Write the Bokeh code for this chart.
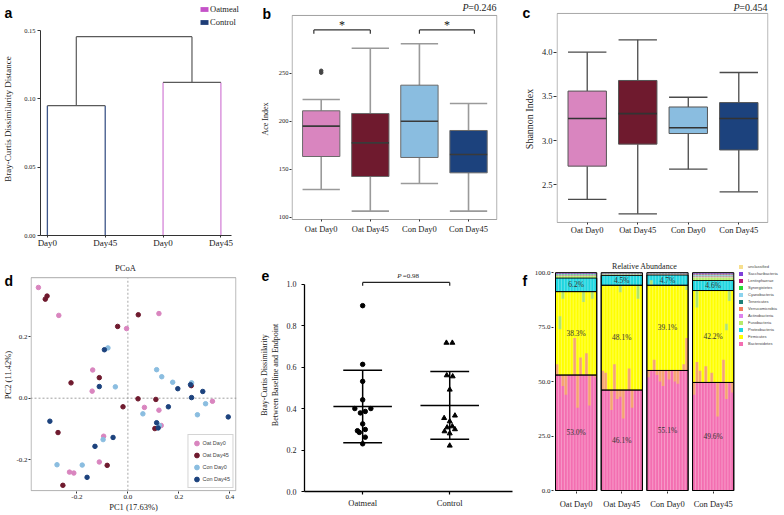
import numpy as np
from bokeh.plotting import figure
from bokeh.layouts import row, column
from bokeh.models import (ColumnDataSource, Label, Legend, LegendItem, FixedTicker, Range1d)
from bokeh.core.properties import value
from bokeh.embed import file_html
from bokeh.resources import INLINE

SERIF = "Liberation Serif"
SANS = "Liberation Sans"

# ---------------- data ----------------
# (a) dendrogram of group centroids
dend_leaves = ["Day0", "Day45", "Day0", "Day45"]
control_merge = 0.095
oatmeal_merge = 0.112
root_merge = 0.1455

# (b) Ace index box statistics
box_groups = ["Oat Day0", "Oat Day45", "Con Day0", "Con Day45"]
group_colors = ["#D985BF", "#6F1A2E", "#8ABDE0", "#1C427D"]
ace_lower = [128.8, 106.3, 135.1, 106.3]
ace_q1 = [163.2, 142.4, 162.2, 146.2]
ace_median = [194.8, 177.4, 200.0, 165.3]
ace_q3 = [210.8, 208.0, 237.5, 190.3]
ace_upper = [222.6, 276.0, 280.6, 218.4]
ace_outliers = [250.5, 252.5]
ace_sig_from = [0.85, 3.0]
ace_sig_to = [2.0, 4.12]
ace_sig_y = 295.0
ace_p = "=0.246"

# (c) Shannon index box statistics
sh_lower = [2.334, 2.172, 2.677, 2.42]
sh_q1 = [2.711, 2.96, 3.08, 2.894]
sh_median = [3.25, 3.305, 3.145, 3.25]
sh_q3 = [3.56, 3.68, 3.38, 3.43]
sh_upper = [4.0, 4.14, 3.49, 3.77]
sh_p = "=0.454"

# (d) PCoA coordinates
oat0_x = [-0.351, -0.271, -0.005, 0.122, -0.138, -0.140, 0.065, 0.122, 0.131, 0.332, -0.095, -0.112, -0.229, -0.212]
oat0_y = [0.361, 0.270, 0.227, 0.276, 0.092, 0.023, -0.030, -0.039, -0.089, -0.010, -0.124, -0.208, -0.241, -0.244]
oat45_x = [-0.324, -0.317, -0.040, 0.041, -0.223, -0.112, 0.040, 0.110, -0.019, 0.249, 0.106, -0.274, -0.081, -0.255]
oat45_y = [0.323, 0.333, 0.234, 0.272, 0.050, 0.067, -0.002, -0.004, -0.028, 0.041, -0.099, -0.112, -0.219, -0.284]
con0_x = [-0.078, -0.049, 0.113, 0.133, 0.176, 0.250, 0.305, 0.273, 0.059, 0.124, -0.097, -0.179, -0.278]
con0_y = [0.164, 0.037, 0.093, 0.070, 0.052, 0.050, -0.018, -0.054, -0.051, -0.089, -0.135, -0.218, -0.217]
con45_x = [-0.092, -0.112, 0.196, 0.246, 0.250, 0.294, 0.394, 0.159, 0.113, 0.119, -0.306, -0.058, -0.129, -0.160]
con45_y = [0.158, 0.038, 0.031, 0.044, 0.002, 0.022, -0.061, -0.028, -0.080, -0.097, -0.075, -0.128, -0.157, -0.258]

# (e) Bray-Curtis baseline vs endpoint
e_groups = ["Oatmeal", "Control"]
oat_bc = [0.896, 0.613, 0.531, 0.442, 0.400, 0.400, 0.386, 0.379, 0.326, 0.293, 0.285, 0.299, 0.262, 0.230]
oat_jitter = [0, 0, 0, 0, -0.09, 0.094, 0.03, -0.026, 0, -0.06, -0.038, 0.03, 0.03, 0]
con_bc = [0.717, 0.717, 0.560, 0.555, 0.491, 0.354, 0.366, 0.338, 0.309, 0.314, 0.290, 0.300, 0.280, 0.221]
con_jitter = [-0.038, 0.030, -0.034, 0.034, 0, -0.064, 0.060, 0, -0.030, 0.030, -0.060, 0.060, 0, 0]
e_p = "=0.98"

# (f) relative abundance (%), bottom to top
phyla = ["Bacteroidetes", "Firmicutes", "Proteobacteria", "Fusobacteria", "Actinobacteria",
         "Verrucomicrobia", "Tenericutes", "Cyanobacteria", "Synergistetes", "Lentisphaerae",
         "Saccharibacteria", "unclassified"]
phyla_colors = ["#F46EB1", "#FFFF00", "#1FD6E0", "#B6EB6B", "#DD82EC", "#F47C5E",
                "#1E7F77", "#8CD3EE", "#27DB35", "#C0187C", "#7E3FD8", "#F7DF8E"]
mean_oat0 = [53.0, 38.3, 6.2, 1.0, 0.1, 0.2, 0.4, 0.1, 0.1, 0.1, 0.3, 0.2]
mean_oat45 = [46.1, 48.1, 4.5, 0.4, 0.1, 0.1, 0.2, 0.05, 0.05, 0.1, 0.2, 0.1]
mean_con0 = [55.1, 39.1, 4.7, 0.3, 0.05, 0.1, 0.3, 0.05, 0.05, 0.05, 0.1, 0.1]
mean_con45 = [49.6, 42.2, 4.6, 1.5, 0.2, 0.3, 0.3, 0.2, 0.3, 0.3, 0.3, 0.2]
bact_oat0 = [58, 53, 48, 44, 53, 53, 70, 38, 61, 53, 63, 39, 53, 52]
bact_oat45 = [55, 54, 46.1, 37, 58, 42, 43, 33, 46.1, 56, 38, 46.1, 46.1, 46.1]
bact_con0 = [52, 55.1, 60, 53, 50, 48, 55.1, 51, 55.1, 50, 49, 55.1, 58, 70]
bact_con45 = [44, 59, 55, 49.6, 57, 49.6, 54, 49.6, 34, 49.6, 60, 42, 49.6, 45]
green_idx = [[1, 2, 9, 12], [6, 12], [1, 13], [1, 11, 12]]
green_lo = [[74, 88, 86.5, 88], [91, 88], [94.2, 92], [84, 73.6, 87]]
green_hi = [[80, 91.3, 91.3, 91.3], [94.2, 94.2], [96.5, 94.2], [91.8, 76.6, 91.8]]

panel_letters = ["a", "b", "c", "d", "e", "f"]

# ---------------- layout constants ----------------
W1, W2, W3 = 256, 264, 263
H1, H2 = 252, 262
T1, B1 = 2, 17      # row 1 common top / bottom borders
T2, B2 = 6, 22      # row 2 common top / bottom borders


def make_fig(w, h, l, r, t, b, xr, yr):
    p = figure(width=w, height=h, x_range=Range1d(*xr), y_range=Range1d(*yr),
               output_backend="svg", toolbar_location=None,
               min_border_left=l, min_border_right=r, min_border_top=t, min_border_bottom=b)
    p.xgrid.visible = False
    p.ygrid.visible = False
    p.outline_line_color = None
    p.background_fill_color = "white"
    p.border_fill_color = "white"
    for ax in (p.xaxis[0], p.yaxis[0]):
        ax.major_label_text_font = SERIF
        ax.axis_label_text_font = SERIF
        ax.axis_label_text_font_style = "normal"
        ax.minor_tick_line_color = None
        ax.major_tick_in = 0
        ax.major_tick_out = 3
        ax.axis_line_color = "#333333"
        ax.major_tick_line_color = "#333333"
        ax.major_label_text_color = "#222222"
        ax.axis_label_text_color = "#222222"
    p._fw = w - l - r
    p._fh = h - t - b
    p._xr = xr
    p._yr = yr
    return p


def eps_x(p, px=0.6):
    return px * (p._xr[1] - p._xr[0]) / p._fw


def eps_y(p, px=0.6):
    return px * (p._yr[1] - p._yr[0]) / p._fh


def p_label(p, rest, y_screen, size="10px"):
    p.add_layout(Label(x=p._fw - 1, y=y_screen, x_units="screen", y_units="screen", text=rest,
                       text_font=SERIF, text_font_size=size, text_align="right",
                       text_baseline="middle", text_color="#222"))
    p.add_layout(Label(x=p._fw - 29, y=y_screen, x_units="screen", y_units="screen", text="P",
                       text_font=SERIF, text_font_style="italic", text_font_size=size,
                       text_align="right", text_baseline="middle", text_color="#222"))


BOX_W = 0.76


def draw_boxes(p, lower, q1, med, q3, upper, wcol, ocol, mcol, wwidth):
    xs = np.arange(1, len(lower) + 1)
    src = ColumnDataSource(dict(x=xs, x0=xs - BOX_W / 2, x1=xs + BOX_W / 2, lower=lower, q1=q1,
                                med=med, q3=q3, upper=upper, color=group_colors))
    for a, b in (("lower", "q1"), ("q3", "upper")):
        p.segment(x0="x", y0=a, x1="x", y1=b, source=src, line_color=wcol, line_width=wwidth)
    for yk in ("lower", "upper"):
        p.segment(x0="x0", y0=yk, x1="x1", y1=yk, source=src, line_color=wcol, line_width=wwidth)
    p.vbar(x="x", width=BOX_W, bottom="q1", top="q3", fill_color="color", line_color=ocol,
           line_width=1, source=src)
    p.segment(x0="x0", y0="med", x1="x1", y1="med", source=src, line_color=mcol, line_width=1.6)


def cat_axis(p, labels, size):
    p.xaxis.ticker = FixedTicker(ticks=list(range(1, len(labels) + 1)))
    p.xaxis.major_label_overrides = {i + 1: s for i, s in enumerate(labels)}
    p.xaxis.major_label_text_font_size = size


def box_outline(p, ylo, yhi, color):
    ex = eps_x(p)
    p.quad(left=[p._xr[0] + ex], right=[p._xr[1] - ex], bottom=[ylo], top=[yhi],
           fill_color=None, line_color=color, line_width=1)


# ---------------- (a) dendrogram ----------------
pa = make_fig(W1, H1, 36, 16, T1, B1, (0.881, 4.339), (0, 0.1705))
leaf_x = np.arange(1, 5)
ctrl_mid = leaf_x[:2].mean()
oat_mid = leaf_x[2:].mean()
CTRL_LINE = "#3E5689"
OAT_LINE = "#D585D8"
JOIN = "#5A5A5A"
pa.segment(x0=leaf_x[:2], y0=[0, 0], x1=leaf_x[:2], y1=[control_merge] * 2, line_color=CTRL_LINE, line_width=1.3)
pa.segment(x0=leaf_x[2:], y0=[0, 0], x1=leaf_x[2:], y1=[oatmeal_merge] * 2, line_color=OAT_LINE, line_width=1.3)
pa.segment(x0=[leaf_x[0], leaf_x[2]], y0=[control_merge, oatmeal_merge],
           x1=[leaf_x[1], leaf_x[3]], y1=[control_merge, oatmeal_merge], line_color=JOIN, line_width=1.2)
pa.segment(x0=[ctrl_mid, oat_mid, ctrl_mid], y0=[control_merge, oatmeal_merge, root_merge],
           x1=[ctrl_mid, oat_mid, oat_mid], y1=[root_merge, root_merge, root_merge], line_color=JOIN, line_width=1.2)
pa.yaxis.ticker = FixedTicker(ticks=[0, 0.05, 0.10, 0.15])
pa.yaxis.major_label_overrides = {0: "0.00", 0.05: "0.05", 0.1: "0.10", 0.15: "0.15"}
pa.yaxis.major_label_text_font_size = "6.5px"
pa.yaxis.axis_label = "Bray-Curtis Dissimilarity Distance"
pa.yaxis.axis_label_text_font_size = "9px"
pa.yaxis.axis_label_standoff = 8
pa.yaxis.major_label_standoff = 2
pa.yaxis.bounds = (0, 0.15)
pa.xaxis.bounds = (0.881, 4.186)
cat_axis(pa, dend_leaves, "9px")
pa.xaxis.major_tick_out = 2
pa.xaxis.major_label_standoff = 0
# zero-area swatch glyphs that only feed the legend
r_oat = pa.quad(left=[ctrl_mid], right=[ctrl_mid], bottom=[0], top=[0], fill_color="#C452C8", line_color=None)
r_con = pa.quad(left=[ctrl_mid], right=[ctrl_mid], bottom=[0], top=[0], fill_color="#1E3D77", line_color=None)
leg_a = Legend(items=[LegendItem(label="Oatmeal", renderers=[r_oat]), LegendItem(label="Control", renderers=[r_con])],
               location=(159, 208), glyph_width=10, glyph_height=6, label_height=8, spacing=3,
               padding=0, margin=0, label_standoff=1, border_line_color=None, background_fill_alpha=0,
               label_text_font=SERIF, label_text_font_size="8.5px", label_text_color="#222222")
pa.add_layout(leg_a)

# ---------------- (b) Ace ----------------
pb = make_fig(W2, H1, 35, 23, T1, B1, (0.395, 4.59), (80.94, 323.6))
ace_frame = (97.6, 310.1)
box_outline(pb, ace_frame[0], ace_frame[1], "#A0A0A0")
for ax in (pb.xaxis[0], pb.yaxis[0]):
    ax.axis_line_color = None
pb.xaxis.fixed_location = ace_frame[0]
draw_boxes(pb, ace_lower, ace_q1, ace_median, ace_q3, ace_upper, "#9A9A9A", "#6A6A6A", "#3A3A3A", 1.6)
pb.scatter(x=[1] * len(ace_outliers), y=ace_outliers, size=3.5, color="#444444")
sig_src = ColumnDataSource(dict(x0=ace_sig_from, x1=ace_sig_to, y=[ace_sig_y] * 2, yt=[ace_sig_y - 4] * 2,
                                xm=[(a + b) / 2 for a, b in zip(ace_sig_from, ace_sig_to)]))
pb.segment(x0="x0", y0="y", x1="x1", y1="y", source=sig_src, line_color="#333", line_width=1.2)
pb.segment(x0="x0", y0="y", x1="x0", y1="yt", source=sig_src, line_color="#333", line_width=1.2)
pb.segment(x0="x1", y0="y", x1="x1", y1="yt", source=sig_src, line_color="#333", line_width=1.2)
pb.text(x="xm", y="y", text=value("*"), source=sig_src, text_font=value(SERIF), text_font_size="12px",
        text_align="center", text_baseline="bottom", y_offset=2, text_color="#111")
pb.yaxis.ticker = FixedTicker(ticks=[100, 150, 200, 250])
pb.yaxis.major_label_text_font_size = "6.5px"
pb.yaxis.axis_label = "Ace Index"
pb.yaxis.axis_label_text_font_size = "8px"
pb.yaxis.axis_label_standoff = 6
pb.yaxis.major_tick_out = 2
pb.yaxis.major_label_standoff = 1
cat_axis(pb, box_groups, "8.5px")
pb.xaxis.major_tick_out = 2
pb.xaxis.major_label_standoff = 2
p_label(pb, ace_p, pb._fh - 5)

# ---------------- (c) Shannon ----------------
pc = make_fig(W3, H1, 36, 15, T1, B1, (0.392, 4.588), (1.9265, 4.562))
sh_frame = (2.074, 4.438)
box_outline(pc, sh_frame[0], sh_frame[1], "#A8A8A8")
for ax in (pc.xaxis[0], pc.yaxis[0]):
    ax.axis_line_color = None
pc.xaxis.fixed_location = sh_frame[0]
draw_boxes(pc, sh_lower, sh_q1, sh_median, sh_q3, sh_upper, "#4A4A4A", "#555555", "#333333", 1.3)
pc.yaxis.ticker = FixedTicker(ticks=[2.5, 3.0, 3.5, 4.0])
pc.yaxis.major_label_overrides = {2.5: "2.5", 3: "3.0", 3.5: "3.5", 4: "4.0"}
pc.yaxis.major_label_text_font_size = "8.5px"
pc.yaxis.axis_label = "Shannon Index"
pc.yaxis.axis_label_text_font_size = "10px"
pc.yaxis.axis_label_standoff = 4
pc.yaxis.major_label_standoff = 1
cat_axis(pc, box_groups, "8.5px")
pc.xaxis.major_tick_out = 2
pc.xaxis.major_label_standoff = 1
p_label(pc, sh_p, pc._fh - 5)

# ---------------- (d) PCoA ----------------
pdd = make_fig(W1, H2, 25, 20, T2, B2, (-0.382, 0.4264), (-0.3042, 0.4555))
pc_frame = (-0.3015, 0.3929)
box_outline(pdd, pc_frame[0], pc_frame[1], "#AAAAAA")
for ax in (pdd.xaxis[0], pdd.yaxis[0]):
    ax.axis_line_color = None
    ax.major_label_text_font_size = "7px"
    ax.axis_label_text_font_size = "8.5px"
    ax.major_tick_out = 2
    ax.major_label_standoff = 1
    ax.axis_label_standoff = 0
pdd.segment(x0=[0], y0=[pc_frame[0]], x1=[0], y1=[pc_frame[1]], line_color="#BBBBBB", line_width=1.3, line_dash="2 2")
pdd.segment(x0=[pdd._xr[0]], y0=[0], x1=[pdd._xr[1]], y1=[0], line_color="#888888", line_width=0.8, line_dash="2 2")
pdd.xaxis.ticker = FixedTicker(ticks=[-0.2, 0.0, 0.2, 0.4])
pdd.yaxis.ticker = FixedTicker(ticks=[-0.2, 0.0, 0.2])
pdd.xaxis.major_label_overrides = {-0.2: "-0.2", 0: "0.0", 0.2: "0.2", 0.4: "0.4"}
pdd.yaxis.major_label_overrides = {-0.2: "-0.2", 0: "0.0", 0.2: "0.2"}
pdd.xaxis.axis_label = "PC1 (17.63%)"
pdd.yaxis.axis_label = "PC2 (11.42%)"
rend_d = []
for xs, ys, col in ((oat0_x, oat0_y, group_colors[0]), (oat45_x, oat45_y, group_colors[1]),
                    (con0_x, con0_y, group_colors[2]), (con45_x, con45_y, group_colors[3])):
    rend_d.append(pdd.scatter(x=xs, y=ys, marker="circle", size=4.5, fill_color=col, line_color=col))
leg_d = Legend(items=[LegendItem(label=g, renderers=[r]) for g, r in zip(box_groups, rend_d)],
               location="bottom_right", glyph_width=12, glyph_height=12, label_height=12, spacing=-2,
               padding=2, margin=3, label_standoff=0, border_line_color="#AAAAAA",
               label_text_font=SANS, label_text_font_size="5.5px")
pdd.add_layout(leg_d)
pdd.add_layout(Label(x=95, y=pdd._fh - 10, x_units="screen", y_units="screen", text="PCoA",
                     text_font=SERIF, text_font_size="8.5px", text_align="center", text_baseline="middle",
                     text_color="#222"))

# ---------------- (e) dissimilarity ----------------
pe = make_fig(W2, H2, 45, 8, T2, B2, (0.332, 2.721), (0, 1.1234))
for ax in (pe.xaxis[0], pe.yaxis[0]):
    ax.axis_line_color = "black"
    ax.axis_line_width = 1.3
    ax.major_tick_line_width = 1.2
    ax.major_tick_line_color = "black"
pe.yaxis.bounds = (0, 1.0)
pe.yaxis.ticker = FixedTicker(ticks=[0, 0.2, 0.4, 0.6, 0.8, 1.0])
pe.yaxis.major_label_overrides = {0: "0.0", 0.2: "0.2", 0.4: "0.4", 0.6: "0.6", 0.8: "0.8", 1: "1.0"}
pe.yaxis.major_label_text_font_size = "8px"
pe.yaxis.axis_label = "Bray-Curtis Dissimilarity\nBetween Baseline and Endpoint"
pe.yaxis.axis_label_text_font_size = "8px"
pe.yaxis.axis_label_standoff = 4
cat_axis(pe, e_groups, "8.5px")
pe.xaxis.major_label_standoff = 3
pe.scatter(x=1 + np.array(oat_jitter), y=oat_bc, marker="circle", size=4.5, color="black")
pe.scatter(x=2 + np.array(con_jitter), y=con_bc, marker="triangle", size=5, color="black")
e_means = np.array([np.mean(oat_bc), np.mean(con_bc)])
e_sd = np.array([np.std(oat_bc, ddof=1), np.std(con_bc, ddof=1)])
ex = np.array([1.0, 2.0])
MEAN_HW, CAP_HW = 0.336, 0.223
pe.segment(x0=ex - MEAN_HW, y0=e_means, x1=ex + MEAN_HW, y1=e_means, line_color="black", line_width=1.5)
pe.segment(x0=ex, y0=e_means - e_sd, x1=ex, y1=e_means + e_sd, line_color="black", line_width=1.5)
pe.segment(x0=ex - CAP_HW, y0=e_means - e_sd, x1=ex + CAP_HW, y1=e_means - e_sd, line_color="black", line_width=1.5)
pe.segment(x0=ex - CAP_HW, y0=e_means + e_sd, x1=ex + CAP_HW, y1=e_means + e_sd, line_color="black", line_width=1.5)
br_y = 1.008
pe.segment(x0=[ex[0], ex[0], ex[1]], y0=[br_y, br_y, br_y], x1=[ex[1], ex[0], ex[1]], y1=[br_y, br_y - 0.016, br_y - 0.016],
           line_color="#222", line_width=1.2)
pe.text(x=[ex.mean() - 0.055], y=[br_y + 0.032], text=["P"], text_font=value(SERIF), text_font_style="italic",
        text_font_size="7px", text_align="right", text_baseline="middle", text_color="#222")
pe.text(x=[ex.mean() - 0.04], y=[br_y + 0.032], text=[e_p], text_font=value(SERIF),
        text_font_size="7px", text_align="left", text_baseline="middle", text_color="#222")

# ---------------- (f) relative abundance ----------------
N_SAMPLES = 14
STRIDE = 15.5
pf = make_fig(W3, H2, 33, 0, T2, B2, (-1.18, 76.87), (-0.455, 106.5))
for ax in (pf.xaxis[0], pf.yaxis[0]):
    ax.axis_line_color = None
    ax.major_tick_out = 2
pf.yaxis.ticker = FixedTicker(ticks=[0, 25, 50, 75, 100])
pf.yaxis.major_label_overrides = {0: "0.0", 25: "25.0", 50: "50.0", 75: "75.0", 100: "100.0"}
pf.yaxis.major_label_text_font_size = "7px"
pf.yaxis.major_label_standoff = 1
facet_means = [mean_oat0, mean_oat45, mean_con0, mean_con45]
facet_bact = [bact_oat0, bact_oat45, bact_con0, bact_con45]
starts = np.arange(len(facet_means)) * STRIDE
centers = starts + (N_SAMPLES - 1) / 2
pf.xaxis.ticker = FixedTicker(ticks=list(centers))
pf.xaxis.major_label_overrides = {float(c): g for c, g in zip(centers, box_groups)}
pf.xaxis.major_label_text_font_size = "8.5px"
pf.xaxis.major_label_standoff = 5
cums = np.array([np.concatenate([[0], np.cumsum(m)]) for m in facet_means])
lefts = starts - 0.5
rights = starts + N_SAMPLES - 0.5
layer_r = []
for i, (ph, col) in enumerate(zip(phyla, phyla_colors)):
    r = pf.quad(left=lefts, right=rights, bottom=cums[:, i], top=cums[:, i + 1], fill_color=col, line_color=None)
    layer_r.append(r)
ORANGE = "#F5A26E"
GREEN = "#AEE46A"
for k in range(len(facet_means)):
    xs = starts[k] + np.arange(N_SAMPLES)
    b = np.array(facet_bact[k], dtype=float)
    B = facet_means[k][0]
    pf.quad(left=xs - 0.5, right=xs + 0.5, bottom=np.minimum(b, B), top=np.maximum(b, B),
            fill_color=ORANGE, line_color=None)
    gx = starts[k] + np.array(green_idx[k])
    pf.quad(left=gx - 0.5, right=gx + 0.5, bottom=green_lo[k], top=green_hi[k], fill_color=GREEN, line_color=None)
    pf.quad(left=xs - 0.5, right=xs + 0.5, bottom=np.zeros(N_SAMPLES), top=np.full(N_SAMPLES, cums[k, -1]),
            fill_color=None, line_color="white", line_alpha=0.35, line_width=0.5)
for i in range(3):
    pf.quad(left=lefts, right=rights, bottom=cums[:, i], top=cums[:, i + 1], fill_color=None,
            line_color="black", line_width=0.9)
pf.quad(left=lefts, right=rights, bottom=cums[:, 0], top=cums[:, -1], fill_color=None, line_color="black", line_width=1)
for i in range(3):
    vals = [m[i] for m in facet_means]
    mids = (cums[:, i] + cums[:, i + 1]) / 2
    pf.text(x=centers, y=mids, text=[f"{v:.1f}%" for v in vals], text_font=value(SERIF), text_font_size="7.5px",
            text_align="center", text_baseline="middle", text_color="#333333")
leg_f = Legend(items=[LegendItem(label=ph, renderers=[r]) for ph, r in zip(phyla[::-1], layer_r[::-1])],
               location=(185, 145), glyph_width=5, glyph_height=5, label_height=5, spacing=2, padding=0, margin=0,
               label_standoff=5, border_line_color=None, background_fill_alpha=0,
               label_text_font=SANS, label_text_font_size="4px")
pf.add_layout(leg_f)
pf.add_layout(Label(x=(lefts[0] + rights[-1]) / 2, y=pf._fh - 9, x_units="data", y_units="screen",
                    text="Relative Abundance", text_font=SERIF, text_font_size="8px", text_align="center",
                    text_baseline="middle", text_color="#222"))

# ---------------- overlay for the panel letters ----------------
TOTAL_W, TOTAL_H = W1 + W2 + W3, H1 + H2
ov = figure(width=TOTAL_W, height=TOTAL_H, x_range=Range1d(0, TOTAL_W), y_range=Range1d(TOTAL_H, 0),
            x_axis_type=None, y_axis_type=None, min_border=0, toolbar_location=None,
            output_backend="svg", outline_line_color=None,
            styles={"position": "absolute", "left": "0px", "top": "0px", "z-index": "10",
                    "pointer-events": "none"})
ov.background_fill_alpha = 0
ov.border_fill_alpha = 0
ov.grid.visible = False
ov.text(x=[4, 262, 522, 4, 261, 522], y=[12, 13, 12, 280, 275, 280], text=panel_letters,
        text_font=value(SANS), text_font_style="bold", text_font_size="14px",
        text_align="left", text_baseline="alphabetic", text_color="black")

layout = column(row(pa, pb, pc, spacing=0), row(pdd, pe, pf, spacing=0), ov, spacing=0)
open("out.html", "w").write(file_html(layout, INLINE))
